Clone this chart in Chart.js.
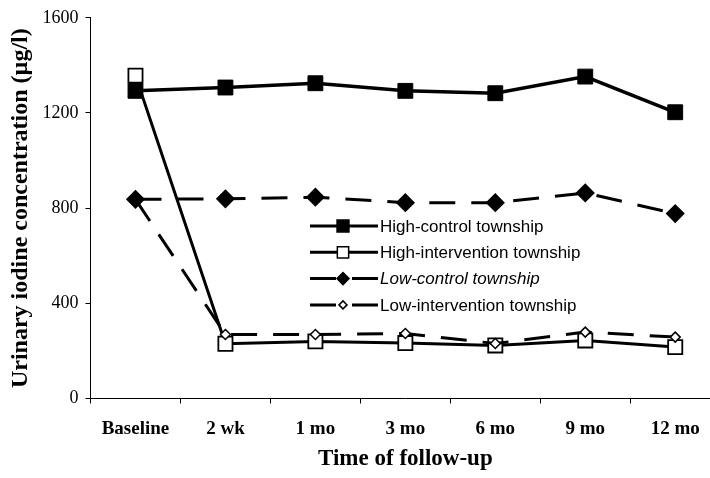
<!DOCTYPE html>
<html>
<head>
<meta charset="utf-8">
<script src="https://cdn.jsdelivr.net/npm/chart.js@4.4.1/dist/chart.umd.min.js"></script>
<style>
  html, body { margin: 0; padding: 0; background: #fff; overflow: hidden; }
  #wrap { width: 732px; height: 478px; }
</style>
</head>
<body>
<div id="wrap"><canvas id="myChart" width="732" height="478" style="width:732px;height:478px"></canvas></div>
<script>
'use strict'

var categories = ["Baseline", "2 wk", "1 mo", "3 mo", "6 mo", "9 mo", "12 mo"];
var highControl = [1293, 1307, 1325, 1293, 1283, 1353, 1203];
var highIntervention = [1357, 230, 240, 233, 223, 244, 216];
var lowControl = [837, 839, 846, 823, 823, 864, 777];
var lowIntervention = [837, 269, 269, 273, 231, 279, 258];
var yTicks = [0, 400, 800, 1200, 1600];

var serif = "'Liberation Serif', 'Times New Roman', serif";
var sans = "'Liberation Sans', Arial, sans-serif";

// legend sits inside the plot, like the original
var legendBox = {
    id: 'legendBox',
    afterDatasetsDraw: function(chart) {
        var ctx = chart.ctx;
        var x0 = 310, x1 = 378, xm = 343, y = 226;
        chart.data.datasets.forEach(function(ds, i) {
            var yy = y + i * 26.3;
            ctx.save();
            ctx.strokeStyle = '#000';
            ctx.lineWidth = 3;
            ctx.setLineDash(ds.borderDash || []);
            ctx.beginPath();
            ctx.moveTo(x0, yy);
            ctx.lineTo(x1, yy);
            ctx.stroke();
            ctx.setLineDash([]);
            ctx.fillStyle = ds.pointBackgroundColor;
            ctx.strokeStyle = '#000';
            ctx.lineWidth = 1.5;
            Chart.helpers.drawPoint(ctx, {
                pointStyle: ds.pointStyle,
                radius: ds.pointRadius * 0.8,
                borderWidth: 1.5
            }, xm, yy);
            ctx.fillStyle = '#000';
            ctx.font = (i === 2 ? 'italic ' : '') + '17px ' + sans;
            ctx.textBaseline = 'middle';
            ctx.fillText(ds.label, x1 + 2, yy + 1);
            ctx.restore();
        });
    }
};

var ctx = document.getElementById("myChart").getContext("2d");

var myChart = new Chart(ctx, {
    type: 'line',
    data: {
        labels: categories,
        datasets: [{
            label: 'High-control township',
            data: highControl,
            borderColor: '#000',
            borderWidth: 3.5,
            pointStyle: 'rect',
            pointRadius: 10.5,
            pointBorderWidth: 1,
            pointBackgroundColor: '#000',
            pointBorderColor: '#000',
            order: 3
        },
        {
            label: 'High-intervention township',
            data: highIntervention,
            borderColor: '#000',
            borderWidth: 3,
            pointStyle: 'rect',
            pointRadius: 10,
            pointBorderWidth: 1.8,
            pointBackgroundColor: '#fff',
            pointBorderColor: '#000',
            order: 2
        },
        {
            label: 'Low-control township',
            data: lowControl,
            borderColor: '#000',
            borderWidth: 3,
            borderDash: [26, 16],
            pointStyle: 'rectRot',
            pointRadius: 7.5,
            pointBackgroundColor: '#000',
            pointBorderColor: '#000',
            order: 0
        },
        {
            label: 'Low-intervention township',
            data: lowIntervention,
            borderColor: '#000',
            borderWidth: 3,
            borderDash: [26, 16],
            pointStyle: 'rectRot',
            pointRadius: 5,
            pointBorderWidth: 1.5,
            pointBackgroundColor: '#fff',
            pointBorderColor: '#000',
            order: 1
        }]
    },
    options: {
        responsive: false,
        animation: false,
        layout: { padding: { left: 0, right: 2, top: 14.2, bottom: 0 } },
        plugins: {
            legend: { display: false },
            tooltip: { enabled: false }
        },
        scales: {
            x: {
                offset: true,
                afterFit: function(scale) {
                    scale.height = 79.5;
                    scale.paddingLeft = 0;
                    scale.paddingRight = 0;
                },
                border: { color: '#000', width: 1 },
                grid: { display: true, offset: true, drawOnChartArea: false, drawTicks: true, tickLength: 5, color: '#000' },
                ticks: { color: '#000', font: { family: serif, size: 19, weight: 'bold' }, padding: 14, maxRotation: 0 },
                title: { display: true, text: 'Time of follow-up', color: '#000', font: { family: serif, size: 23, weight: 'bold' }, padding: { top: 4, bottom: 5 } }
            },
            y: {
                min: 0,
                max: 1600,
                afterFit: function(scale) { scale.width = 90.5; },
                afterBuildTicks: function(scale) {
                    scale.ticks = yTicks.map(function(v) { return { value: v }; });
                },
                border: { color: '#000', width: 1 },
                grid: { display: true, drawOnChartArea: false, drawTicks: true, tickLength: 5, color: '#000' },
                ticks: {
                    color: '#000',
                    font: { family: serif, size: 18 },
                    padding: 7,
                    callback: function(v) { return String(v); }
                },
                title: { display: true, text: 'Urinary iodine concentration (µg/l)', color: '#000', font: { family: serif, size: 24, weight: 'bold' }, padding: { top: 6, bottom: 0 } }
            }
        }
    },
    plugins: [legendBox]
});
</script>
</body>
</html>
